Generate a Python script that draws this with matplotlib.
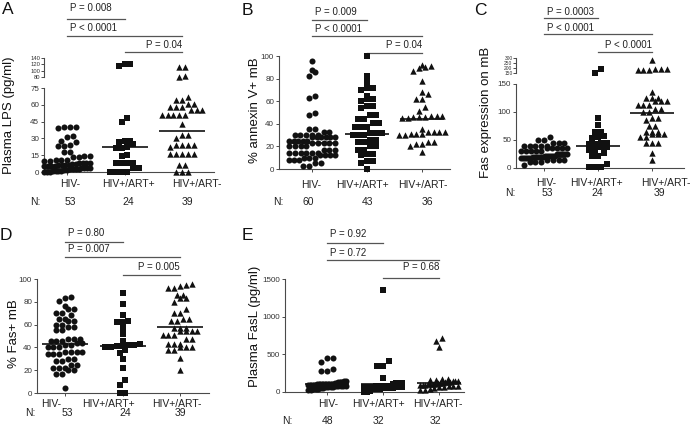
import numpy as np
import matplotlib
matplotlib.use("Agg")
import matplotlib.pyplot as plt
from matplotlib.transforms import blended_transform_factory

plt.rcParams['font.family'] = ['Liberation Sans', 'DejaVu Sans']

W, H = 696, 426

groups = ["HIV-", "HIV+/ART+", "HIV+/ART-"]

# ---------------- Panel A: Plasma LPS (pg/ml) ----------------
A_hiv_neg = [40, 40, 40, 39, 32, 31, 28, 27, 24, 23, 23, 18, 18, 14, 14, 13, 13,
             11, 11, 11, 10, 10, 8, 8, 8, 8, 7, 7, 6, 6, 6, 6, 5, 5, 5, 5,
             4, 4, 4, 4, 3, 3, 3, 3, 2, 2, 1, 1, 1, 1, 0, 0, 0]
A_art_pos = [121, 116, 121, 48, 45, 28, 28, 27, 25, 21, 21, 22, 15, 14, 8, 8, 8, 8,
             4, 4, 0, 0, 0, 0]
A_art_neg = [113, 111, 82, 81, 67, 64, 64, 61, 61, 58, 58, 58, 55, 55, 55, 51, 51, 51,
             51, 51, 43, 33, 33, 30, 24, 24, 24, 24, 22, 16, 16, 16, 16, 16, 6, 6, 0, 0, 0]
A_center = [3, 22, 36.5]
A_n = ["53", "24", "39"]
A_p = ["P = 0.008", "P < 0.0001", "P = 0.04"]

# ---------------- Panel B: % annexin V+ mB ----------------
B_hiv_neg = [96, 88, 86, 82, 65, 63, 50, 48, 35, 35, 33, 33, 30, 30, 30, 30, 30,
             28, 28, 28, 28, 28, 28, 25, 25, 25, 25, 25, 23, 23, 23, 23, 23,
             20, 20, 20, 20, 17, 17, 17, 14, 14, 14, 14, 14, 14, 12, 12, 12, 12,
             10, 10, 10, 8, 8, 8, 5, 5, 3, 3]
B_art_pos = [100, 82, 77, 72, 72, 70, 65, 62, 62, 60, 56, 56, 54, 48, 48, 44, 44, 41, 41,
             37, 37, 37, 32, 32, 32, 30, 30, 30, 26, 26, 24, 24, 20, 20, 17, 17, 13, 13,
             12, 7, 7, 5, 0]
B_art_neg = [92, 91, 90, 89, 87, 78, 68, 66, 62, 62, 55, 51, 47, 47, 47, 46, 46, 46, 45, 45,
             35, 33, 33, 33, 33, 31, 31, 31, 30, 30, 24, 24, 22, 22, 20, 15]
B_center = [23, 31, 44]
B_n = ["60", "43", "36"]
B_p = ["P = 0.009", "P < 0.0001", "P = 0.04"]

# ---------------- Panel C: Fas expression on mB ----------------
C_hiv_neg = [55, 50, 50, 45, 45, 45, 40, 40, 40, 40, 40, 35, 35, 35, 35, 35, 30, 30, 30, 30, 30,
             25, 25, 25, 25, 25, 25, 22, 22, 22, 22, 22, 22, 20, 20, 20, 20, 20, 20,
             17, 17, 17, 17, 17, 17, 14, 14, 14, 14, 10, 10, 10, 6]
C_art_pos = [193, 155, 90, 77, 65, 64, 57, 56, 54, 45, 45, 42, 42, 38, 38, 32, 32, 27,
             22, 22, 8, 2, 2, 2]
C_art_neg = [282, 195, 190, 185, 180, 185, 190, 135, 125, 125, 125, 120, 120, 120, 112, 112, 112,
             105, 105, 100, 100, 90, 90, 85, 75, 75, 65, 65, 65, 60, 60, 60, 55, 55,
             45, 45, 45, 27, 15]
C_center = [20, 40, 98]
C_n = ["53", "24", "39"]
C_p = ["P = 0.0003", "P < 0.0001", "P < 0.0001"]

# ---------------- Panel D: % Fas+ mB ----------------
D_hiv_neg = [84, 83, 81, 76, 74, 74, 70, 70, 68, 65, 65, 63, 63, 60, 60, 58, 58, 55, 55,
             47, 47, 47, 46, 46, 46, 44, 44, 42, 42, 40, 40, 40, 36, 36, 36, 36, 34, 34, 34,
             30, 30, 28, 28, 25, 25, 22, 22, 22, 20, 20, 17, 17, 4]
D_art_pos = [88, 78, 68, 63, 62, 62, 57, 52, 46, 43, 42, 42, 41, 41, 40, 40, 38, 35, 30,
             22, 11, 7, 0, 0]
D_art_neg = [96, 95, 94, 92, 92, 86, 86, 83, 83, 80, 74, 70, 70, 65, 65, 63, 63, 57, 57, 57,
             54, 54, 54, 54, 51, 51, 51, 47, 47, 43, 43, 43, 40, 40, 40, 38, 38, 31, 20]
D_center = [43, 41, 58]
D_n = ["53", "24", "39"]
D_p = ["P = 0.80", "P = 0.007", "P = 0.005"]

# ---------------- Panel E: Plasma FasL (pg/ml) ----------------
E_hiv_neg = [450, 450, 400, 310, 280, 280, 145, 140, 135, 130, 130, 130, 115, 115, 110, 110,
             110, 110, 110, 110, 105, 105, 100, 100, 100, 100, 95, 95, 90, 90, 90, 90,
             85, 85, 80, 80, 75, 70, 70, 65, 60, 55, 50, 45, 40, 35, 30, 25]
E_art_pos = [1350, 410, 350, 350, 180, 120, 120, 115, 110, 80, 80, 80, 75, 75, 75, 70, 70,
             70, 70, 65, 60, 60, 55, 55, 50, 50, 45, 40, 40, 10, 5, 5]
E_art_neg = [715, 680, 600, 175, 170, 160, 155, 150, 150, 140, 135, 130, 130, 125, 120, 115,
             110, 110, 105, 100, 95, 90, 90, 85, 80, 75, 70, 60, 50, 40, 30, 25]
E_center = [100, 105, 115]
E_n = ["48", "32", "32"]
E_p = ["P = 0.92", "P = 0.72", "P = 0.68"]

# ---------------- figure ----------------
fig = plt.figure(figsize=(W / 100, H / 100), dpi=100)
INK = '#111111'
AXC = '#4a4a4a'
LINEC = '#555555'

MARK = {'o': 19, 's': 16, '^': 21}
markers = ['o', 's', '^']


def style(ax, bottom=True, ticks=None, labsize=5.8):
    for s in ['top', 'right']:
        ax.spines[s].set_visible(False)
    ax.spines['left'].set_color(AXC)
    ax.spines['left'].set_linewidth(0.8)
    ax.patch.set_alpha(0)
    if bottom:
        ax.spines['bottom'].set_color(AXC)
        ax.spines['bottom'].set_linewidth(0.8)
        ax.set_xticks([0, 1, 2])
        ax.tick_params(axis='x', length=2.5, width=0.7, color=AXC, labelbottom=False)
    else:
        ax.spines['bottom'].set_visible(False)
        ax.tick_params(axis='x', bottom=False, labelbottom=False)
    if ticks is not None:
        ax.set_yticks(ticks)
    ax.tick_params(axis='y', length=2.5, width=0.7, color=AXC, labelsize=labsize,
                   pad=1, labelcolor='#333333')


def make_ax(yaxis_x, c0, sp, xmax, top, bottom, ylim):
    xmin = (yaxis_x - c0) / sp
    width = (xmax - xmin) * sp
    ax = fig.add_axes([yaxis_x / W, 1 - bottom / H, width / W, (bottom - top) / H])
    ax.set_xlim(xmin, xmax)
    ax.set_ylim(*ylim)
    return ax


def swarm_offsets(ypix, d, maxw):
    ypix = np.asarray(ypix)
    order = np.argsort(ypix)
    offs = np.zeros(len(ypix))
    i = 0
    while i < len(order):
        j = i
        y0 = ypix[order[i]]
        while j + 1 < len(order) and ypix[order[j + 1]] - y0 < d * 0.8:
            j += 1
        idx = order[i:j + 1]
        n = len(idx)
        if n > 1:
            s = min(d, maxw / (n - 1))
            offs[idx] = (np.arange(n) - (n - 1) / 2) * s
        i = j + 1
    return offs


def draw_group(axes, split, k, vals, marker, maxw=44, d=5.8):
    vals = np.asarray(vals, float)
    if split is None:
        which = np.zeros(len(vals), int)
    else:
        which = (vals > split).astype(int)
    ypix = np.array([axes[w].transData.transform((k, v))[1] for v, w in zip(vals, which)])
    offs = swarm_offsets(ypix, d, maxw)
    ax0 = axes[0]
    sp = ax0.transData.transform((1, 0))[0] - ax0.transData.transform((0, 0))[0]
    for w in np.unique(which):
        m = which == w
        axes[w].scatter(k + offs[m] / sp, vals[m], marker=marker, s=MARK[marker],
                        c=INK, linewidths=0, clip_on=False, zorder=3)


def panel(cfg):
    lower = make_ax(cfg['yx'], cfg['c0'], cfg['sp'], cfg['xmax'], *cfg['lower'][:3])
    style(lower, True, cfg['lower'][3])
    axes = [lower]
    if cfg.get('upper'):
        upper = make_ax(cfg['yx'], cfg['c0'], cfg['sp'], cfg['xmax'], *cfg['upper'][:3])
        style(upper, False, cfg['upper'][3], labsize=cfg['upsize'])
        upper.tick_params(axis='y', length=2, pad=0.5)
        upper.set_yticklabels([str(t) for t in cfg['upper'][3]])
        axes.append(upper)
    for k, (vals, mk) in enumerate(zip(cfg['data'], markers)):
        draw_group(axes, cfg.get('split'), k, vals, mk, maxw=cfg.get('maxw', 46))
        c = cfg['center'][k]
        lower.plot([k - 0.4, k + 0.4], [c, c], color=INK, lw=1.2, zorder=4, solid_capstyle='butt')
    tr = blended_transform_factory(lower.transData, fig.transFigure)
    # p-value brackets
    pairs = [(0, 1), (0, 2), (1, 2)]
    for (a, b), ly, ty, txt, ha in zip(pairs, cfg['pl'], cfg['pt'], cfg['p'], ['l', 'l', 'r']):
        lower.plot([a, b], [1 - ly / H] * 2, transform=tr, color=LINEC, lw=0.9, clip_on=False)
        if ha == 'l':
            lower.text(a + 0.05, 1 - ty / H, txt, transform=tr, ha='left', va='center',
                       fontsize=7, color='#222222')
        else:
            lower.text(b, 1 - ty / H, txt, transform=tr, ha='right', va='center',
                       fontsize=7, color='#222222')
    # category labels and N row
    for x, g in zip(cfg['labx'], groups):
        fig.text(x / W, 1 - cfg['laby'] / H, g, ha='center', va='center', fontsize=7.5,
                 color='#222222')
    fig.text(cfg['nlab'] / W, 1 - cfg['ny'] / H, "N:", ha='center', va='center',
             fontsize=7.5, color='#222222')
    for x, n in zip(cfg['nx'], cfg['n']):
        fig.text(x / W, 1 - cfg['ny'] / H, n, ha='center', va='center', fontsize=7.5,
                 color='#222222')
    fig.text(cfg['ylab'][0] / W, 1 - cfg['ylab'][1] / H, cfg['ylabel'], rotation=90,
             ha='center', va='center', fontsize=9.5, color='#111111')
    fig.text(cfg['letter'][0] / W, 1 - cfg['letter'][1] / H, cfg['L'], ha='left', va='top',
             fontsize=12.5, color='#111111')


panels = [
    dict(L='A', yx=44, c0=67, sp=57.5, xmax=2.55,
         lower=(88, 172, (0, 75), [0, 15, 30, 45, 60, 75]),
         upper=(58, 77, (80, 140), [80, 100, 120, 140]), split=77.5, upsize=4.2,
         data=[A_hiv_neg, A_art_pos, A_art_neg], center=A_center, p=A_p,
         pl=[19, 36, 52], pt=[8, 28, 45], labx=[70, 128, 197], laby=184,
         nlab=35, nx=[70, 128, 187], ny=202, n=A_n,
         ylabel="Plasma LPS (pg/ml)", ylab=(9, 115), letter=(2, 2)),
    dict(L='B', yx=279, c0=312, sp=55, xmax=2.5,
         lower=(56, 169, (0, 100), [0, 20, 40, 60, 80, 100]),
         data=[B_hiv_neg, B_art_pos, B_art_neg], center=B_center, p=B_p,
         pl=[20, 36, 53], pt=[12, 29, 45], labx=[311, 362, 423], laby=185,
         nlab=278, nx=[308, 368, 427], ny=202, n=B_n,
         ylabel="% annexin V+ mB", ylab=(255, 110), letter=(242, 3)),
    dict(L='C', yx=516, c0=544, sp=54, xmax=2.6,
         lower=(84, 168, (0, 150), [0, 50, 100, 150]),
         upper=(58, 73, (150, 300), [150, 200, 250, 300]), split=150, upsize=3.5,
         data=[C_hiv_neg, C_art_pos, C_art_neg], center=C_center, p=C_p,
         pl=[18, 34, 52], pt=[12, 28, 45], labx=[546, 596, 666], laby=183,
         nlab=510, nx=[547, 597, 659], ny=193, n=C_n,
         ylabel="Fas expression on mB", ylab=(486, 112), letter=(474, 3)),
    dict(L='D', yx=37, c0=65, sp=57.5, xmax=2.5,
         lower=(279, 393, (0, 100), [0, 20, 40, 60, 80, 100]),
         data=[D_hiv_neg, D_art_pos, D_art_neg], center=D_center, p=D_p,
         pl=[242, 257, 275], pt=[233, 249, 267], labx=[51, 108, 177], laby=404,
         nlab=30, nx=[67, 125, 180], ny=413, n=D_n,
         ylabel="% Fas+ mB", ylab=(14, 334), letter=(0, 228)),
    dict(L='E', yx=285, c0=327, sp=56, xmax=2.45,
         lower=(279, 392, (0, 1500), [0, 500, 1000, 1500]), maxw=38,
         data=[E_hiv_neg, E_art_pos, E_art_neg], center=E_center, p=E_p,
         pl=[243, 260, 278], pt=[234, 253, 267], labx=[328, 378, 438], laby=404,
         nlab=287, nx=[328, 378, 435], ny=421, n=E_n,
         ylabel="Plasma FasL (pg/ml)", ylab=(255, 326), letter=(242, 228)),
]

for cfg in panels:
    panel(cfg)

fig.savefig("out.png", dpi=100)
